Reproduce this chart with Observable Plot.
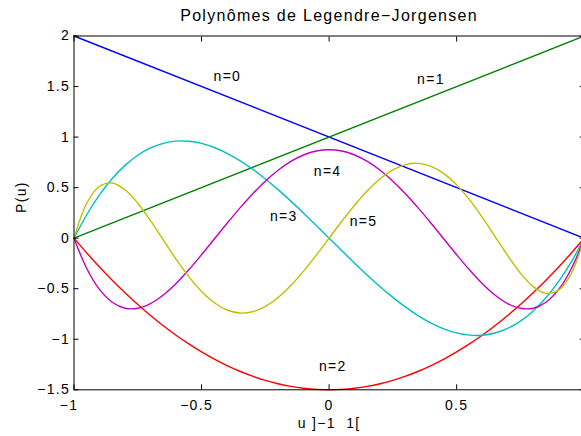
<!DOCTYPE html>
<html><head><meta charset="utf-8">
<script src="https://cdn.jsdelivr.net/npm/d3@7"></script>
<script src="https://cdn.jsdelivr.net/npm/@observablehq/plot@0.6"></script>
<style>
html,body{margin:0;padding:0;background:#fff;overflow:hidden;}
#chart svg{font-family:"Liberation Sans",Arial,sans-serif;font-size:14px;letter-spacing:1.3px;max-width:none;}
#chart svg text{white-space:pre;}
#chart g[aria-label="title"] text{letter-spacing:1px;}
</style></head><body><div id="chart"></div>
<script>
const u = [-1,-0.95,-0.9,-0.85,-0.8,-0.75,-0.7,-0.65,-0.6,-0.55,-0.5,-0.45,-0.4,-0.35,-0.3,-0.25,-0.2,-0.15,-0.1,-0.05,0,0.05,0.1,0.15,0.2,0.25,0.3,0.35,0.4,0.45,0.5,0.55,0.6,0.65,0.7,0.75,0.8,0.85,0.9,0.95,1];
const uLine = [-1, 1];
const p0 = [2, 0];
const p1 = [0, 2];
const p2 = [0,-0.1463,-0.285,-0.4163,-0.54,-0.6563,-0.765,-0.8663,-0.96,-1.0463,-1.125,-1.1963,-1.26,-1.3163,-1.365,-1.4063,-1.44,-1.4663,-1.485,-1.4963,-1.5,-1.4963,-1.485,-1.4663,-1.44,-1.4063,-1.365,-1.3163,-1.26,-1.1963,-1.125,-1.0463,-0.96,-0.8663,-0.765,-0.6563,-0.54,-0.4163,-0.285,-0.1463,0];
const p3 = [0,0.2316,0.4275,0.5897,0.72,0.8203,0.8925,0.9384,0.96,0.9591,0.9375,0.8972,0.84,0.7678,0.6825,0.5859,0.48,0.3666,0.2475,0.1247,0,-0.1247,-0.2475,-0.3666,-0.48,-0.5859,-0.6825,-0.7678,-0.84,-0.8972,-0.9375,-0.9591,-0.96,-0.9384,-0.8925,-0.8203,-0.72,-0.5897,-0.4275,-0.2316,0];
const p4 = [0,-0.2997,-0.5071,-0.6343,-0.693,-0.6938,-0.6471,-0.5622,-0.448,-0.3128,-0.1641,-0.0087,0.147,0.2975,0.4379,0.564,0.672,0.7591,0.8229,0.8619,0.875,0.8619,0.8229,0.7591,0.672,0.564,0.4379,0.2975,0.147,-0.0087,-0.1641,-0.3128,-0.448,-0.5622,-0.6471,-0.6938,-0.693,-0.6343,-0.5071,-0.2997,0];
const p5 = [0,0.3457,0.5136,0.546,0.4795,0.3461,0.1727,-0.0179,-0.2074,-0.3809,-0.5273,-0.6389,-0.7106,-0.7403,-0.7279,-0.6757,-0.5875,-0.4689,-0.3263,-0.1673,0,0.1673,0.3263,0.4689,0.5875,0.6757,0.7279,0.7403,0.7106,0.6389,0.5273,0.3809,0.2074,0.0179,-0.1727,-0.3461,-0.4795,-0.546,-0.5136,-0.3457,0];
const seriesNames = ["n=0","n=1","n=2","n=3","n=4","n=5"];
const seriesColors = ["#0000ff","#008000","#ff0000","#00bfbf","#bf00bf","#bfbf00"];
const xTicks = [-1,-0.5,0,0.5,1];
const xTickLabels = [-1,-0.5,0,0.5];
const yTicks = [-1.5,-1,-0.5,0,0.5,1,1.5,2];
const labelText = ["n=0","n=1","n=2","n=3","n=4","n=5"];
const labelX = [-0.453,0.345,-0.04,-0.232,-0.06,0.081];
const labelY = [1.60,1.574,-1.27,0.215,0.66,0.161];
const titleText = "Polynômes de Legendre\u2212Jorgensen";
const xLabel = "u ]\u22121  1[";
const yLabel = "P(u)";

const seriesX = [uLine, uLine, u, u, u, u];
const seriesY = [p0, p1, p2, p3, p4, p5];
const rows = [];
seriesNames.forEach((n, k) => seriesX[k].forEach((x, i) => rows.push({n, x, y: seriesY[k][i]})));

const fmt = d => (d < 0 ? "\u2212" : "") + String(Math.abs(d));

const chart = Plot.plot({
  width: 585, height: 436,
  marginLeft: 73.5, marginRight: 1.3, marginTop: 35.5, marginBottom: 46.7,
  x: {domain: [-1, 1]},
  y: {domain: [-1.5, 2]},
  color: {domain: seriesNames, range: seriesColors},
  style: {background: "white"},
  marks: [
    Plot.line(rows, {x: "x", y: "y", z: "n", stroke: "n", strokeWidth: 1.4, curve: "catmull-rom"}),
    Plot.frame({stroke: "black", strokeWidth: 1}),
    Plot.axisX(xTicks, {anchor: "bottom", tickSize: -5, fill: "none", label: null}),
    Plot.axisX(xTicks, {anchor: "top", tickSize: -5, fill: "none", label: null}),
    Plot.axisY(yTicks, {anchor: "left", tickSize: -5, fill: "none", label: null}),
    Plot.axisY(yTicks, {anchor: "right", tickSize: -5, fill: "none", label: null}),
    Plot.axisX(xTickLabels.filter(d => d < 0), {anchor: "bottom", tickSize: 0, tickPadding: 10, label: null, tickFormat: fmt, dx: -5, fill: "black"}),
    Plot.axisX(xTickLabels.filter(d => d >= 0), {anchor: "bottom", tickSize: 0, tickPadding: 10, label: null, tickFormat: fmt, fill: "black"}),
    Plot.axisY(yTicks, {anchor: "left", tickSize: 0, tickPadding: 4, label: null, tickFormat: fmt, fill: "black"}),
    Plot.text(labelText, {x: labelX, y: labelY, text: labelText, textAnchor: "start", lineAnchor: "middle", fontSize: 14, fill: "black"}),
    Plot.text([titleText], {frameAnchor: "top", dy: -15, lineAnchor: "bottom", fontSize: 16, fill: "black", ariaLabel: "title"}),
    Plot.text([xLabel], {frameAnchor: "bottom", dy: 38.5, lineAnchor: "bottom", fontSize: 14, fill: "black"}),
    Plot.text([yLabel], {frameAnchor: "left", dx: -52.5, rotate: -90, lineAnchor: "middle", fontSize: 14, fill: "black"})
  ]
});
document.getElementById("chart").appendChild(chart);
</script></body></html>
